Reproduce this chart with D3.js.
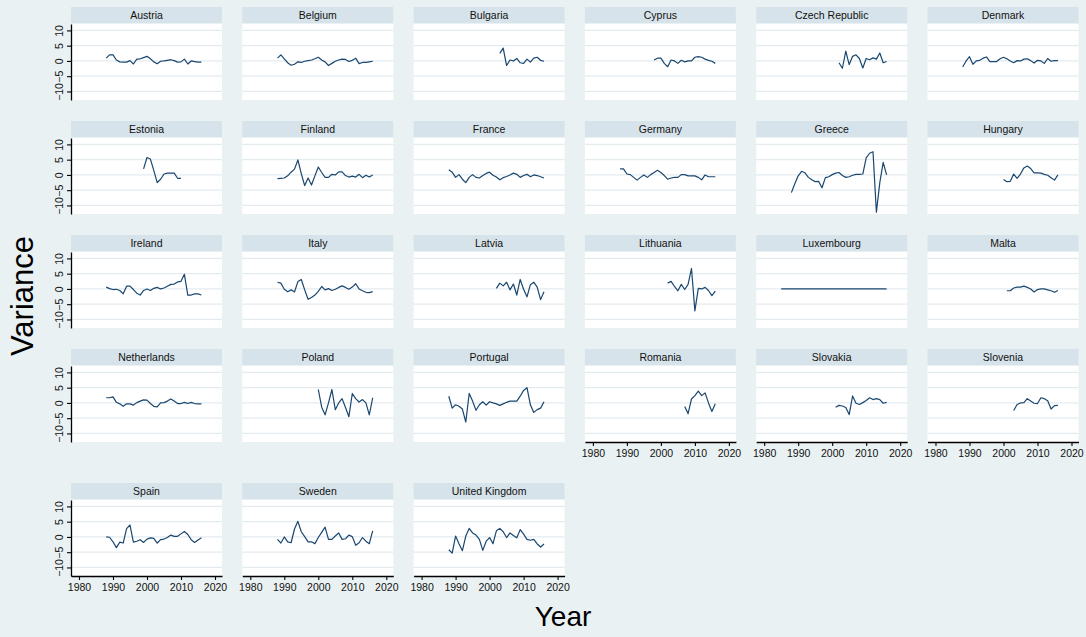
<!DOCTYPE html>
<html>
<head>
<meta charset="utf-8">
<script src="https://cdn.jsdelivr.net/npm/d3@7"></script>
<style>
  body { margin: 0; background: #eaf1f3; }
  svg { display: block; font-family: "Liberation Sans", Arial, sans-serif; }
</style>
</head>
<body>
<svg id="chart"></svg>
<script>
// panels, in the order Stata lays them out
const countries = ["Austria", "Belgium", "Bulgaria", "Cyprus", "Czech Republic", "Denmark",
  "Estonia", "Finland", "France", "Germany", "Greece", "Hungary",
  "Ireland", "Italy", "Latvia", "Lithuania", "Luxembourg", "Malta",
  "Netherlands", "Poland", "Portugal", "Romania", "Slovakia", "Slovenia",
  "Spain", "Sweden", "United Kingdom"];

// first year of each series
const startYears = [1988, 1988, 2003, 1998, 2002, 1988,
  1999, 1988, 1988, 1988, 1988, 2000,
  1988, 1988, 2002, 2002, 1985, 2001,
  1988, 2000, 1988, 2007, 2001, 2003,
  1988, 1988, 1988];

// yearly values
const austria = [0.9, 2.0, 2.0, 0.3, -0.3, -0.4, -0.4, 0.1, -1.0, 0.6, 0.7, 1.1, 1.5, 0.7, -0.3, -0.9, -0.1, 0, 0.2, 0.4, 0.1, -0.4, -0.3, 0.6, -1.0, 0, -0.2, -0.4, -0.4];
const belgium = [0.9, 2.0, 0.7, -0.6, -1.4, -1.1, -0.3, -0.5, -0.1, 0.1, 0.3, 0.7, 1.2, 0.3, -0.3, -1.5, -0.8, -0.1, 0.3, 0.6, 0.5, -0.2, 0.2, 0.9, -0.9, -0.5, -0.5, -0.3, -0.1];
const bulgaria = [2.5, 4.2, -1.5, 0.3, 0, 0.8, -0.6, -0.8, 0.6, -0.4, 0.9, 1.2, 0.2, -0.1];
const cyprus = [0.3, 0.9, 0.9, -0.8, -1.9, 0.3, 0, -0.8, 0.2, -0.3, 0, 0, 1.2, 1.4, 1.2, 0.6, 0.2, -0.1, -0.8];
const czech = [-0.6, -2.4, 3.2, -1.2, 1.5, 2.0, 0.8, -2.3, 0.8, 0.4, 1.0, 0.6, 2.6, -0.6, -0.2];
const denmark = [-2.0, 0, 1.4, -1.1, 0, 0.2, 0.9, 1.3, -0.2, -0.2, -0.2, 0.7, 1.2, 0.7, 0, -0.6, 0.1, 0, 0.6, 0.7, 0.1, -0.7, 0.2, 0, -0.8, 0.8, -0.1, 0.1, 0.1];
const estonia = [2.0, 5.7, 5.2, 1.5, -2.5, -1.4, 0.3, 0.6, 0.6, 0.6, -1.1, -1.1];
const finland = [-1.2, -1.1, -1.0, -0.3, 0.9, 1.9, 4.9, 0.4, -3.5, -1.0, -3.3, -0.3, 2.6, 0.8, -0.8, -0.8, 0.2, 0, 1.0, 1.0, -0.2, -0.7, -0.4, -0.7, 0.2, -0.9, -0.1, -0.7, 0];
const france = [1.7, 0.9, -0.8, 0.1, -1.4, -2.5, -0.8, 0.1, -0.8, -1.0, -0.2, 0.5, 0.9, -0.1, -0.7, -1.6, -0.9, -0.5, 0, 0.6, 0.2, -0.8, -0.2, 0.2, -0.6, 0, -0.2, -0.6, -1.0];
const germany = [2.0, 2.0, 0.3, 0.1, -0.8, -1.7, -0.8, 0, -0.8, 0.1, 0.8, 1.5, 0.8, -0.2, -1.4, -1.0, -0.8, -0.8, 0.1, 0.1, -0.3, -0.3, -0.3, -0.8, -1.6, 0, -0.6, -0.6, -0.6];
const greece = [-5.8, -2.9, -0.3, 1.2, 0.7, -0.8, -1.6, -2.2, -2.1, -4.2, -0.9, -0.6, 0.1, 0.6, 0.8, -0.2, -0.8, -0.6, -0.1, 0.2, 0.2, 0.3, 5.6, 7.1, 7.6, -12.2, -2.5, 4.1, 0];
const hungary = [-1.5, -2.2, -2.1, 0.3, -1.1, 0.3, 2.3, 2.9, 2.1, 0.7, 0.7, 0.6, 0.2, -0.1, -0.9, -1.7, 0];
const ireland = [0.6, 0.1, -0.2, -0.1, -0.5, -1.6, 0.9, 0.9, -0.2, -1.4, -2.0, -0.5, 0, -0.5, 0.2, 0.5, 0, 0.3, 0.9, 1.5, 1.6, 2.3, 2.5, 4.8, -2.0, -2.0, -1.6, -1.6, -2.0];
const italy = [2.2, 1.9, -0.1, -0.9, -0.3, -1.0, 2.4, 3.1, -0.3, -3.4, -2.8, -2.0, -0.8, 0.8, -0.3, 0.1, -0.5, -0.1, 0.5, 1.0, 0.5, -0.1, 0.6, 1.7, 0, -0.6, -1.1, -1.2, -0.9];
const latvia = [0.2, 1.9, 1.0, 2.2, -0.3, 1.6, -2.0, 3.1, -0.1, -2.6, 1.4, 2.2, 0.6, -3.5, -0.9];
const lithuania = [1.9, 2.5, 0.8, -0.6, 1.5, -0.2, 1.5, 6.7, -7.2, 0.2, 0, 0.5, -0.5, -2.2, -0.7];
const luxembourg = [0, 0, 0, 0, 0, 0, 0, 0, 0, 0, 0, 0, 0, 0, 0, 0, 0, 0, 0, 0, 0, 0, 0, 0, 0, 0, 0, 0, 0, 0, 0, 0];
const malta = [-0.6, -0.6, 0.3, 0.6, 0.6, 0.9, 0.5, 0, -1.0, -0.2, 0, 0, -0.3, -0.6, -1.1, -0.5];
const netherlands = [1.7, 1.7, 2.0, 0.2, -0.3, -1.1, -0.3, -0.3, -0.7, 0.1, 0.6, 1.0, 0.9, -0.2, -1.1, -1.3, 0, 0.1, 0.6, 1.3, 0.6, -0.2, -0.2, 0.2, -0.2, 0.2, -0.2, -0.3, -0.3];
const poland = [4.4, -1.4, -3.9, 0, 4.4, -2.2, 0, 1.4, -1.5, -4.5, 3.1, 1.4, 0.3, 1.1, 0, -3.9, 1.7];
const portugal = [2.2, -1.7, -0.6, -1.1, -2.0, -6.3, 3.1, 0.6, -2.4, -0.6, 0.4, -0.7, 0.4, 0, -0.3, -0.8, -0.3, 0.2, 0.6, 0.6, 0.6, 2.2, 4.1, 5.0, -0.6, -3.1, -2.2, -1.7, 0.4];
const romania = [-1.2, -3.5, 1.3, 2.4, 3.9, 2.4, 3.3, 0, -2.8, -0.3];
const slovakia = [-1.4, -0.8, -1.0, -1.5, -3.8, 2.3, -0.1, -0.5, 0.1, 0.8, 1.7, 1.1, 1.4, 1.1, -0.1, 0.2];
const slovenia = [-2.5, -0.5, 0, 0.1, 1.4, 0.6, -0.1, -0.2, 1.7, 1.4, 0.7, -2.0, -0.9, -0.8];
const spain = [0, -0.1, -1.6, -3.5, -1.7, -2.0, 2.7, 3.9, -1.7, -1.4, -0.9, -1.8, -0.7, -0.3, -0.5, -2.0, -0.9, -0.7, -0.2, 0.6, 0.2, 0.2, 1.0, 1.8, 0.8, -0.9, -1.8, -1.0, -0.3];
const sweden = [-0.8, -2.0, 0, -1.6, -1.9, 2.6, 5.1, 1.7, 0.1, -1.6, -1.6, -2.2, -0.2, 1.5, 3.2, -0.8, -0.8, 0.3, 1.3, -0.8, -0.6, 0.6, 0.1, -2.7, -1.9, -0.2, -1.4, -2.2, 2.0];
const uk = [-4.2, -5.3, 0.3, -2.2, -4.5, 0.3, 2.8, 1.3, 0.6, -0.8, -4.4, -1.4, -0.2, -2.2, 2.0, 2.8, 1.7, -0.2, 1.3, 0.5, -0.3, 2.4, 0.9, -0.8, -1.1, -0.8, -2.3, -3.3, -2.3];

const seriesValues = [austria, belgium, bulgaria, cyprus, czech, denmark,
  estonia, finland, france, germany, greece, hungary,
  ireland, italy, latvia, lithuania, luxembourg, malta,
  netherlands, poland, portugal, romania, slovakia, slovenia,
  spain, sweden, uk];

const yTicks = [-10, -5, 0, 5, 10];
const xTicks = [1980, 1990, 2000, 2010, 2020];

const width = 1086, height = 637;
const nCols = 6;
const left0 = 71, colStep = 171.3, panelW = 151;
const rowTops = [7, 121, 235, 349, 483];
const stripH = 16, plotTop = 17, plotH = 76;

const svg = d3.select("#chart")
  .attr("width", width)
  .attr("height", height);

svg.append("rect")
  .attr("width", width)
  .attr("height", height)
  .attr("fill", "#eaf1f3");

var x = d3.scaleLinear()
  .domain([1977.65, 2022.06])
  .range([0, panelW]);

var y = d3.scaleLinear()
  .domain([-12.8, 12.1])
  .range([plotTop + plotH, plotTop]);

var line = d3.line()
  .x(function(d) { return x(d.year) })
  .y(function(d) { return y(d.value) });

countries.forEach(function(name, i) {
  const col = i % nCols;
  const row = Math.floor(i / nCols);
  const g = svg.append("g")
    .attr("transform", "translate(" + (left0 + col * colStep) + "," + rowTops[row] + ")");

  // strip with the country name
  g.append("rect")
    .attr("width", panelW)
    .attr("height", stripH)
    .attr("fill", "#d7e3ea");
  g.append("text")
    .attr("x", panelW / 2)
    .attr("y", stripH / 2 + 4)
    .attr("text-anchor", "middle")
    .attr("font-size", "10.5px")
    .attr("fill", "#111")
    .text(name);

  g.append("rect")
    .attr("y", plotTop)
    .attr("width", panelW)
    .attr("height", plotH)
    .attr("fill", "#fff");

  g.selectAll(".grid")
    .data(yTicks)
    .enter().append("line")
    .attr("x1", 0)
    .attr("x2", panelW)
    .attr("y1", function(d) { return y(d) })
    .attr("y2", function(d) { return y(d) })
    .attr("stroke", "#e3ebef")
    .attr("stroke-width", 1.2);

  const data = seriesValues[i].map(function(v, k) {
    return { year: startYears[i] + k, value: v };
  });

  g.append("path")
    .datum(data)
    .attr("fill", "none")
    .attr("stroke", "#1a476f")
    .attr("stroke-width", 1.2)
    .attr("stroke-linejoin", "round")
    .attr("d", line);

  // y axis only on the first column
  if (col === 0) {
    const ya = g.append("g")
      .call(d3.axisLeft(y).tickValues(yTicks).tickSize(4).tickSizeOuter(0));
    ya.select(".domain").attr("stroke", "#000").attr("stroke-width", 1.3);
    ya.selectAll(".tick line").attr("stroke", "#000").attr("stroke-width", 1.1);
    ya.selectAll(".tick text")
      .attr("transform", "rotate(-90)")
      .attr("x", 0)
      .attr("y", -8)
      .attr("dy", 0)
      .attr("text-anchor", "middle")
      .attr("font-size", "10.5px")
      .attr("font-family", "Liberation Sans, Arial, sans-serif")
      .attr("fill", "#111");
  }

  // x axis where no panel sits below
  if (i + nCols >= countries.length) {
    const xa = g.append("g")
      .attr("transform", "translate(0," + (plotTop + plotH) + ")")
      .call(d3.axisBottom(x).tickValues(xTicks).tickFormat(d3.format("d")).tickSize(4).tickSizeOuter(0));
    xa.select(".domain").attr("stroke", "#000").attr("stroke-width", 1.3);
    xa.selectAll(".tick line").attr("stroke", "#000").attr("stroke-width", 1.1);
    xa.selectAll(".tick text")
      .attr("y", 8)
      .attr("font-size", "10.5px")
      .attr("font-family", "Liberation Sans, Arial, sans-serif")
      .attr("fill", "#111");
  }
});

svg.append("text")
  .attr("transform", "translate(33,296) rotate(-90)")
  .attr("text-anchor", "middle")
  .attr("font-size", "31px")
  .attr("fill", "#000")
  .text("Variance");

svg.append("text")
  .attr("x", 563)
  .attr("y", 626)
  .attr("text-anchor", "middle")
  .attr("font-size", "28px")
  .attr("fill", "#000")
  .text("Year");
</script>
</body>
</html>
